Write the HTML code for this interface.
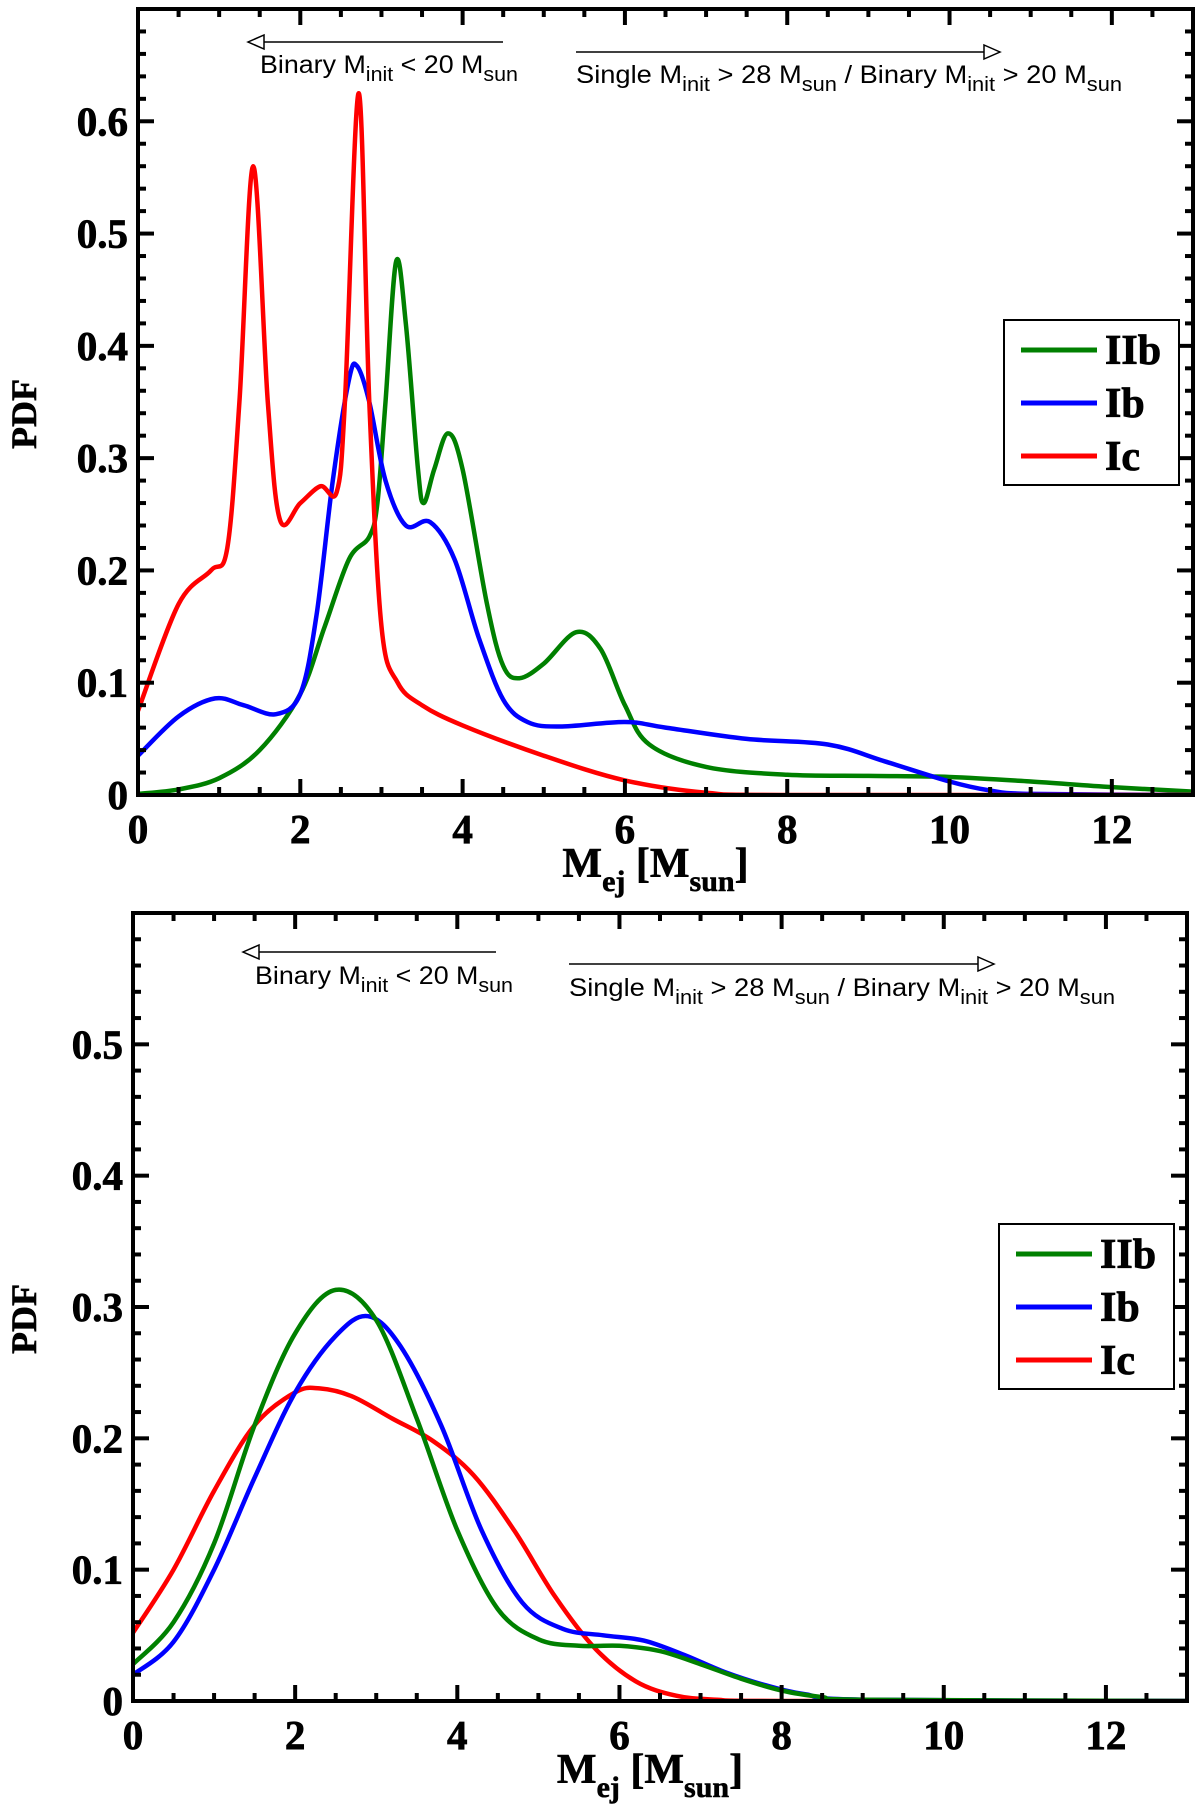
<!DOCTYPE html>
<html><head><meta charset="utf-8"><style>
html,body{margin:0;padding:0;background:#fff;}
svg{display:block;}
text{font-family:"Liberation Serif",serif;font-weight:bold;}
.ann{font-family:"Liberation Sans",sans-serif;font-weight:normal;font-size:25px;}
</style></head><body>
<svg id="fig" width="1200" height="1811" viewBox="0 0 1200 1811" xmlns="http://www.w3.org/2000/svg"></svg>
<script>
// ---- Top panel data ----
const topIcX = [0,0.5,0.9,1.1,1.25,1.42,1.6,1.75,2.0,2.25,2.45,2.55,2.72,2.85,3.0,3.2,3.5,4,5,6,7,8,13];
const topIcY = [0.075,0.17,0.2,0.22,0.35,0.56,0.35,0.245,0.26,0.275,0.27,0.35,0.625,0.35,0.15,0.1,0.08,0.062,0.035,0.013,0.002,0,0];
const topIbX = [0,0.5,0.95,1.3,1.7,2.0,2.2,2.4,2.6,2.7,2.85,3.05,3.3,3.6,3.9,4.2,4.5,4.8,5.2,6,6.5,7.5,8.5,9.2,10,10.5,11,13];
const topIbY = [0.035,0.07,0.086,0.08,0.072,0.09,0.16,0.28,0.37,0.382,0.35,0.28,0.24,0.243,0.21,0.14,0.085,0.065,0.061,0.065,0.06,0.05,0.045,0.03,0.012,0.004,0.001,0];
const topIIbX = [0,0.5,1,1.5,2,2.3,2.6,2.85,2.95,3.05,3.18,3.3,3.45,3.52,3.65,3.82,4.0,4.3,4.5,4.7,5.0,5.4,5.7,6.0,6.3,7,8,9,10,11,12,13];
const topIIbY = [0.001,0.005,0.015,0.04,0.09,0.15,0.21,0.23,0.26,0.35,0.475,0.42,0.29,0.26,0.29,0.322,0.29,0.17,0.115,0.104,0.117,0.145,0.13,0.08,0.045,0.025,0.018,0.017,0.016,0.012,0.007,0.003];
// ---- Bottom panel data ----
const botIIbX = [0,0.5,1,1.5,2,2.5,3,3.5,4,4.5,5,5.5,6,6.5,7,7.5,8,8.5,9,13];
const botIIbY = [0.028,0.06,0.12,0.21,0.28,0.313,0.29,0.215,0.13,0.07,0.047,0.042,0.042,0.038,0.028,0.017,0.008,0.003,0.001,0];
const botIbX = [0,0.5,1,1.5,2,2.5,2.9,3.3,3.8,4.3,4.8,5.3,5.8,6.3,6.8,7.3,7.8,8.3,9,13];
const botIbY = [0.02,0.045,0.1,0.17,0.235,0.278,0.293,0.27,0.21,0.13,0.075,0.055,0.05,0.046,0.035,0.022,0.012,0.005,0.001,0];
const botIcX = [0,0.5,1,1.5,2,2.3,2.7,3.2,3.7,4.2,4.7,5.2,5.7,6.2,6.7,7.2,8,13];
const botIcY = [0.052,0.1,0.16,0.21,0.235,0.238,0.232,0.215,0.198,0.172,0.13,0.08,0.04,0.015,0.004,0.001,0,0];
const xTicks = [0,2,4,6,8,10,12];
const topYTicks = [0,0.1,0.2,0.3,0.4,0.5,0.6];
const botYTicks = [0,0.1,0.2,0.3,0.4,0.5];
const legendLabels = ["IIb","Ib","Ic"];
const legendColors = ["#008000","#0000ff","#ff0000"];

const NS="http://www.w3.org/2000/svg";
const svg=document.getElementById('fig');
function mk(tag,attrs,parent){const e=document.createElementNS(NS,tag);for(const k in attrs)e.setAttribute(k,attrs[k]);(parent||svg).appendChild(e);return e;}

function pathFrom(xs,ys,sx,sy){
  const P=xs.map((x,i)=>[sx(x),sy(ys[i])]);
  let d=`M${P[0][0].toFixed(1)},${P[0][1].toFixed(1)}`;
  const yb=sy(0);
  for(let i=0;i<P.length-1;i++){
    const p0=P[Math.max(0,i-1)],p1=P[i],p2=P[i+1],p3=P[Math.min(P.length-1,i+2)];
    const c1x=p1[0]+(p2[0]-p0[0])/6,c1y=p1[1]+(p2[1]-p0[1])/6;
    const c2x=p2[0]-(p3[0]-p1[0])/6,c2y=p2[1]-(p3[1]-p1[1])/6;
    d+=` C${c1x.toFixed(1)},${Math.min(c1y,yb).toFixed(1)} ${c2x.toFixed(1)},${Math.min(c2y,yb).toFixed(1)} ${p2[0].toFixed(1)},${p2[1].toFixed(1)}`;
  }
  return d;
}

function panel(o){
  const g=mk('g',{});
  
  
  const sx=x=>o.L+(x/13)*(o.R-o.L);
  const sy=y=>o.B-(y/o.ymax)*(o.B-o.T);
  const cid=o.name+'-clip';
  const cp=mk('clipPath',{id:cid},g);mk('rect',{x:o.L,y:o.T,width:o.R-o.L,height:o.B-o.T},cp);
  const series=[[o.icX,o.icY,'#ff0000','ic-curve'],[o.ibX,o.ibY,'#0000ff','ib-curve'],[o.iibX,o.iibY,'#008000','iib-curve']];
  o.order.forEach(i=>{const s=series[i];
    const p=mk('path',{d:pathFrom(s[0],s[1],sx,sy),fill:'none',stroke:s[2],'stroke-width':4.5,'clip-path':`url(#${cid})`,'stroke-linejoin':'round'},g);
    
    
  });
  for(let x=0;x<=13.001;x+=0.5){
    const maj=Math.abs(x/2-Math.round(x/2))<1e-6;const len=maj?16:8;
    mk('line',{x1:sx(x),x2:sx(x),y1:o.B,y2:o.B-len,stroke:'#000','stroke-width':4},g);
    mk('line',{x1:sx(x),x2:sx(x),y1:o.T,y2:o.T+len,stroke:'#000','stroke-width':4},g);
  }
  for(let k=0;k*0.02<=o.ymax+1e-9;k++){
    const y=k*0.02;const maj=k%5===0;const len=maj?16:8;
    mk('line',{x1:o.L,x2:o.L+len,y1:sy(y),y2:sy(y),stroke:'#000','stroke-width':4},g);
    mk('line',{x1:o.R,x2:o.R-len,y1:sy(y),y2:sy(y),stroke:'#000','stroke-width':4},g);
  }
  const fr=mk('rect',{x:o.L,y:o.T,width:o.R-o.L,height:o.B-o.T,fill:'none',stroke:'#000','stroke-width':4},g);
  
  
  xTicks.forEach(v=>{const t=mk('text',{x:sx(v),y:o.B+48,'text-anchor':'middle','font-size':41,'stroke':'#000','stroke-width':0.8},g);t.textContent=v;
    
    });
  o.yTicks.forEach(v=>{const t=mk('text',{x:o.L-10,y:sy(v)+14,'text-anchor':'end','font-size':41,'stroke':'#000','stroke-width':0.8},g);t.textContent=v===0?'0':v.toFixed(1);
    
    });
  const xt=mk('text',{x:(o.L+o.R)/2-10,y:o.B+82,'text-anchor':'middle','font-size':42,'stroke':'#000','stroke-width':0.6},g);
  xt.innerHTML='M<tspan font-size="30" dy="14">ej</tspan><tspan dy="-14"> [M</tspan><tspan font-size="30" dy="14">sun</tspan><tspan dy="-14">]</tspan>';
  
  
  const yt=mk('text',{x:0,y:0,'text-anchor':'middle','font-size':36,'stroke':'#000','stroke-width':0.6,transform:`translate(36,${(o.T+o.B)/2+12}) rotate(-90)`},g);
  yt.textContent='PDF';
  
  
  const lg=mk('g',{},g);
  
  
  mk('rect',{x:o.lgx,y:o.lgy,width:175,height:165,fill:'#fff',stroke:'#000','stroke-width':2},lg);
  legendLabels.forEach((lab,i)=>{
    const yy=o.lgy+30+i*53;
    mk('line',{x1:o.lgx+17,x2:o.lgx+93,y1:yy,y2:yy,stroke:legendColors[i],'stroke-width':5},lg);
    const t=mk('text',{x:o.lgx+101,y:yy+14,'font-size':42,'stroke':'#000','stroke-width':0.8},lg);t.textContent=lab;
    
    
  });
  const a=o.ann;
  mk('line',{x1:a.l1,x2:a.l2,y1:a.ly,y2:a.ly,stroke:'#000','stroke-width':1.5},g);
  mk('path',{d:`M${a.l1},${a.ly} l16,-7 v14 z`,fill:'#fff',stroke:'#000','stroke-width':1.5},g);
  const t1=mk('text',{x:a.l1+12,y:a.lty,class:'ann',textLength:258,lengthAdjust:'spacingAndGlyphs'},g);
  t1.innerHTML='Binary M<tspan font-size="20" dy="8">init</tspan><tspan dy="-8"> &lt; 20 M</tspan><tspan font-size="20" dy="8">sun</tspan>';
  
  
  mk('line',{x1:a.r1,x2:a.r2,y1:a.ry,y2:a.ry,stroke:'#000','stroke-width':1.5},g);
  mk('path',{d:`M${a.r2},${a.ry} l-16,-7 v14 z`,fill:'#fff',stroke:'#000','stroke-width':1.5},g);
  const t2=mk('text',{x:a.r1,y:a.rty,class:'ann',textLength:546,lengthAdjust:'spacingAndGlyphs'},g);
  t2.innerHTML='Single M<tspan font-size="20" dy="8">init</tspan><tspan dy="-8"> &gt; 28 M</tspan><tspan font-size="20" dy="8">sun</tspan><tspan dy="-8"> / Binary  M</tspan><tspan font-size="20" dy="8">init</tspan><tspan dy="-8"> &gt; 20 M</tspan><tspan font-size="20" dy="8">sun</tspan>';
  
  
}
panel({name:'top-panel',L:138,R:1193,T:9,B:795,ymax:0.7,yTicks:topYTicks,
  icX:topIcX,icY:topIcY,ibX:topIbX,ibY:topIbY,iibX:topIIbX,iibY:topIIbY,order:[2,1,0],
  lgx:1004,lgy:320,ann:{l1:248,l2:503,ly:42,lty:73,r1:576,r2:1000,ry:52,rty:83}});
panel({name:'bottom-panel',L:133,R:1187,T:913,B:1701,ymax:0.6,yTicks:botYTicks,
  icX:botIcX,icY:botIcY,ibX:botIbX,ibY:botIbY,iibX:botIIbX,iibY:botIIbY,order:[0,1,2],
  lgx:999,lgy:1224,ann:{l1:243,l2:496,ly:952,lty:984,r1:569,r2:994,ry:964,rty:996}});
</script>
</body></html>
